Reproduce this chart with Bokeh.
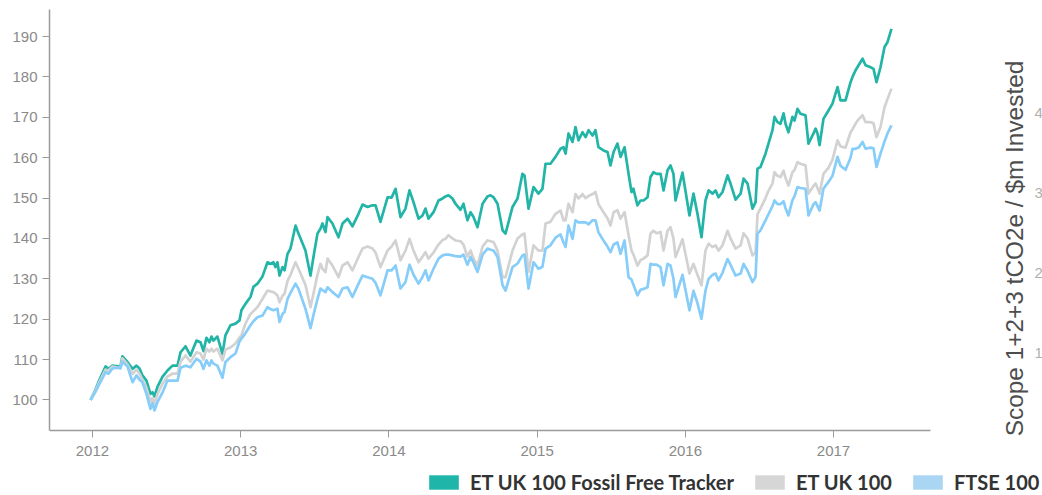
from math import pi
from bokeh.plotting import figure
from bokeh.models import (Range1d, FixedTicker, Label, Legend, LegendItem, ColumnDataSource)
from bokeh.embed import file_html
from bokeh.resources import INLINE

# ---- data (decimal year, index level rebased to 100) ----
years = [2011.987, 2012.020, 2012.047, 2012.088, 2012.108, 2012.135, 2012.169, 2012.189, 2012.202, 2012.236,
         2012.270, 2012.297, 2012.317, 2012.337, 2012.364, 2012.391, 2012.405, 2012.418, 2012.439, 2012.472,
         2012.506, 2012.540, 2012.574, 2012.594, 2012.628, 2012.661, 2012.702, 2012.729, 2012.749, 2012.769,
         2012.789, 2012.803, 2012.816, 2012.843, 2012.877, 2012.897, 2012.931, 2012.965, 2012.992, 2013.005,
         2013.032, 2013.066, 2013.086, 2013.113, 2013.147, 2013.181, 2013.201, 2013.221, 2013.235, 2013.248,
         2013.262, 2013.282, 2013.296, 2013.316, 2013.336, 2013.370, 2013.390, 2013.437, 2013.471, 2013.491,
         2013.518, 2013.538, 2013.552, 2013.572, 2013.586, 2013.619, 2013.660, 2013.687, 2013.721, 2013.754,
         2013.795, 2013.822, 2013.856, 2013.889, 2013.910, 2013.943, 2013.991, 2014.018, 2014.045, 2014.078,
         2014.112, 2014.139, 2014.166, 2014.200, 2014.227, 2014.247, 2014.267, 2014.301, 2014.335, 2014.362,
         2014.382, 2014.402, 2014.429, 2014.449, 2014.483, 2014.503, 2014.530, 2014.551, 2014.571, 2014.598,
         2014.632, 2014.665, 2014.686, 2014.706, 2014.733, 2014.767, 2014.787, 2014.834, 2014.868, 2014.901,
         2014.915, 2014.942, 2014.976, 2015.009, 2015.036, 2015.057, 2015.090, 2015.124, 2015.158, 2015.178,
         2015.192, 2015.212, 2015.239, 2015.259, 2015.279, 2015.306, 2015.327, 2015.347, 2015.374, 2015.394,
         2015.414, 2015.448, 2015.475, 2015.495, 2015.516, 2015.542, 2015.563, 2015.590, 2015.617, 2015.637,
         2015.650, 2015.677, 2015.698, 2015.718, 2015.745, 2015.765, 2015.785, 2015.806, 2015.833, 2015.853,
         2015.880, 2015.900, 2015.920, 2015.934, 2015.981, 2016.028, 2016.055, 2016.082, 2016.109, 2016.136,
         2016.157, 2016.184, 2016.204, 2016.224, 2016.251, 2016.285, 2016.305, 2016.339, 2016.373, 2016.393,
         2016.420, 2016.453, 2016.474, 2016.487, 2016.507, 2016.541, 2016.561, 2016.588, 2016.602, 2016.622,
         2016.642, 2016.663, 2016.676, 2016.696, 2016.723, 2016.737, 2016.757, 2016.777, 2016.811, 2016.831,
         2016.865, 2016.879, 2016.892, 2016.906, 2016.932, 2016.966, 2016.993, 2017.027, 2017.047, 2017.081,
         2017.115, 2017.128, 2017.148, 2017.169, 2017.196, 2017.216, 2017.250, 2017.270, 2017.290, 2017.317,
         2017.344, 2017.364, 2017.391]

fossil_free = [100, 102.5, 105, 108.3, 107.7, 108.5, 108.3, 108.3, 110.8, 109.4,
               107.7, 108.5, 107.8, 106.1, 104.8, 101.5, 101.9, 100.9, 103.3, 105.7,
               107.3, 108.5, 108.5, 111.8, 113.3, 111, 114.7, 114.3, 112.1, 115.4,
               114.3, 115.7, 114.7, 115.7, 111.4, 116, 118.5, 118.9, 119.7, 122.2,
               123.8, 125.5, 128, 128.8, 130.6, 134.1, 133.7, 134.1, 132.9, 134.1,
               130.8, 132.9, 132.1, 136.2, 137.5, 143.2, 141.2, 137, 130.8, 135.4,
               141.2, 142.4, 143.7, 141.6, 145.3, 143.7, 140.3, 143.7, 144.9, 143,
               146.1, 148.4, 147.8, 148.2, 148.2, 144.1, 150.2, 150.1, 152.3, 145.3,
               147.4, 151.9, 149, 144.9, 145.7, 147.4, 144.9, 146.5, 149.4, 149.9,
               150.4, 150.7, 149.9, 148.6, 147.1, 148.6, 144.5, 146.5, 145.3, 142.8,
               148.6, 150.4, 150.7, 150.2, 148.6, 142, 141.2, 147.8, 149.9, 156,
               155.6, 147.4, 152.7, 151.1, 152.3, 158.5, 158.5, 160.2, 162.2, 162.6,
               161, 166, 163.9, 167.6, 164.3, 166.3, 165.1, 166.8, 165.5, 166.8,
               162.6, 161.8, 161.4, 158.1, 161.4, 163.5, 160.2, 162.6, 156, 151.5,
               152.3, 148.2, 149.4, 149.4, 150.2, 155.2, 156.4, 156, 156, 151.9,
               156.9, 158.1, 156, 149.4, 156.3, 145.7, 151.1, 146.1, 140.3, 149.4,
               151.9, 151.1, 151.9, 150.2, 151.5, 155.6, 153.6, 149.6, 151.1, 154.8,
               153.6, 147.4, 149, 157.3, 157.7, 161, 163.5, 166.8, 170.1, 168.8,
               168.4, 171, 168.4, 166.3, 170.1, 169.2, 172.1, 170.9, 170.5, 163.5,
               166, 167.2, 166, 163.1, 169.6, 171.7, 173.4, 177.5, 174.2, 174.2,
               178.7, 180, 181.6, 182.9, 184.5, 182.9, 182.4, 182, 178.7, 182.4,
               187.4, 188.6, 191.9]

et_uk_100 = [100, 102.3, 104.5, 107.5, 107.3, 108.3, 108, 108, 110.3, 108.8,
             106.5, 107.5, 106.5, 105, 103, 99.5, 100.5, 99, 101.5, 104,
             105.8, 106.5, 106.5, 109.5, 111, 109.5, 111.8, 111.5, 110, 112.7,
             112, 112.7, 112, 112.7, 109.8, 112.5, 113, 114, 115.5, 116,
             118.9, 121.3, 122, 123, 125, 127.1, 126.9, 126.7, 126.3, 125.9,
             124.2, 125.8, 126.3, 129.5, 131, 134.1, 132.5, 128.5, 123, 126.3,
             131, 133.7, 132.5, 131.7, 135, 133.3, 130.4, 133.3, 134.1, 132.1,
             135.4, 137.5, 138, 137.5, 136.5, 132.9, 137, 138, 139.5, 134.6,
             137, 139.9, 137, 134.1, 135.5, 136.6, 135, 136.5, 138.5, 139.6,
             139.9, 140.8, 140, 139.5, 139.3, 138.5, 135.5, 137, 135, 133.3,
             138, 139.5, 139.3, 139.1, 137, 130.4, 130.4, 137, 140, 141,
             141.2, 131.7, 138.3, 137, 137, 143.7, 144.1, 146.1, 146.9, 144.5,
             144.5, 148.6, 146.5, 151, 149.9, 151, 150, 150.5, 151, 151.5,
             148.5, 146.5, 145, 143.2, 146.5, 147, 144.9, 146.5, 140.8, 137,
             136, 133.3, 134.6, 135, 135.8, 141.2, 141.9, 141.3, 141.6, 137,
             141.9, 142.8, 140, 135.4, 139.8, 131.3, 133.7, 131, 128.4, 137,
             138.7, 137.9, 138.3, 137, 138.3, 141.9, 140, 137.5, 138.3, 141.3,
             140, 135.8, 136.5, 146, 147.4, 150, 151.8, 153.6, 156.4, 155.5,
             155.2, 156.8, 155, 153.1, 156.4, 157, 158.9, 158.5, 158.1, 151.1,
             153, 153.6, 152.5, 151.1, 156, 157.5, 159.5, 164.3, 162.8, 162.5,
             166.3, 167, 168.4, 169.5, 170.5, 168.8, 168.8, 168.5, 165.1, 167.6,
             172.5, 174.5, 177.1]

ftse_100 = [100, 102, 104, 106.9, 106.5, 107.8, 108, 107.8, 109.5, 108.3,
            104.4, 106.1, 105, 104.4, 101.5, 97.8, 99.2, 97.4, 99.5, 101.8,
            104.8, 104.8, 104.8, 108, 108.5, 108.1, 110.2, 109.5, 107.7, 109.8,
            108.5, 109.8, 109, 108.5, 105.5, 109.4, 110.6, 111.5, 114.5, 115.2,
            116.5, 118.5, 119.5, 120.5, 120.9, 123, 122.5, 122.2, 122.4, 122.6,
            119.3, 121.3, 121.8, 125, 126.5, 128.8, 127.5, 122.6, 117.8, 121,
            125, 127.6, 127.2, 126.7, 127.9, 126.7, 125.5, 127.6, 127.9, 125.5,
            128.8, 130.8, 130.4, 130, 129, 125.9, 132.1, 132.1, 133.3, 127.6,
            129.2, 133.5, 131, 128.8, 130.5, 132.1, 129.6, 132.5, 135, 135.8,
            136, 136, 135.8, 135.6, 135.5, 136, 133.5, 135.4, 134, 131.7,
            136, 137.5, 137.2, 137, 135.4, 128.4, 127.1, 132.9, 133.8, 135.8,
            136, 127.6, 134.1, 132.5, 133, 137.5, 138.3, 140.2, 141, 139,
            137.9, 143.2, 139.9, 144.5, 144, 144, 144, 143.5, 144.5, 144.5,
            141.5, 139.5, 138, 136.6, 138.5, 139, 136.2, 139.5, 130.4, 129.8,
            128.5, 125.9, 127.3, 127.5, 127.9, 133.7, 133.5, 133.5, 132.9, 128.4,
            133.7, 133.3, 130, 125.5, 131, 122.2, 127, 124, 120.1, 127.1,
            130, 131, 131.3, 129.6, 131.5, 134.9, 133.5, 130.8, 131.3, 133.7,
            132, 129.2, 130.5, 141.2, 142, 144.5, 146, 148, 149.4, 148.5,
            148.5, 149.2, 147.5, 145.7, 149.5, 150.5, 152.7, 152.5, 152.3, 145.7,
            148.5, 149, 148, 146.9, 152.3, 154, 155.5, 160.2, 158, 157,
            160, 162.2, 162.2, 162.5, 163.9, 162.2, 162.5, 162.3, 157.7, 161,
            164, 166, 168]

series_names = ["ET UK 100 Fossil Free Tracker", "ET UK 100", "FTSE 100"]
x_ticks = [2012, 2013, 2014, 2015, 2016, 2017]
y_ticks = [100, 110, 120, 130, 140, 150, 160, 170, 180, 190]
carbon_ticks = [1, 2, 3, 4]
right_axis_title = "Scope 1+2+3 tCO2e / $m Invested"

line_colors = ["#22b5a7", "#d2d2d2", "#86cdf9"]
legend_colors = ["#1fb5a8", "#d6d6d6", "#a9d6f2"]

# visible axis extents, and the wider area the frame covers (legend / right title live there)
X_START, X_AXIS_END, X_END = 2011.71, 2017.655, 2018.41
Y_AXIS_START, Y_END, Y_START = 92.44, 196.7, 76.34

p = figure(width=1042, height=495, output_backend="svg", toolbar_location=None,
           x_range=Range1d(X_START, X_END), y_range=Range1d(Y_START, Y_END),
           min_border_left=49, min_border_right=0, min_border_top=9, min_border_bottom=0)
p.extra_y_ranges = {"carbon": Range1d(-0.7875, 5.2875)}
p.outline_line_color = None
p.xgrid.grid_line_color = None
p.ygrid.grid_line_color = None
p.background_fill_color = "white"
p.border_fill_color = "white"

for ax in (p.xaxis[0], p.yaxis[0]):
    ax.axis_line_color = "#9a9a9a"
    ax.axis_line_width = 1.5
    ax.major_tick_line_color = "#9a9a9a"
    ax.major_tick_line_width = 1
    ax.major_tick_out = 7
    ax.major_tick_in = 0
    ax.minor_tick_line_color = None
    ax.major_label_text_color = "#8a8a8a"
    ax.major_label_text_font = "Liberation Sans"
    ax.major_label_text_font_size = "15px"

p.xaxis.ticker = FixedTicker(ticks=x_ticks)
p.xaxis.bounds = (X_START, X_AXIS_END)
p.xaxis.fixed_location = Y_AXIS_START
p.xaxis.major_label_overrides = {t: str(t) for t in x_ticks}
p.xaxis.major_label_standoff = 9
p.yaxis.ticker = FixedTicker(ticks=y_ticks)
p.yaxis.bounds = (Y_AXIS_START, Y_END)
p.yaxis.major_label_standoff = 5

src = ColumnDataSource(dict(x=years, a=fossil_free, b=et_uk_100, c=ftse_100))
p.line("x", "a", source=src, line_color=line_colors[0], line_width=2.7, line_join="round")
p.line("x", "b", source=src, line_color=line_colors[1], line_width=2.7, line_join="round")
p.line("x", "c", source=src, line_color=line_colors[2], line_width=2.7, line_join="round")

# right-hand carbon scale labels (mostly outside the picture in the original)
p.text(x=[2018.356] * len(carbon_ticks), y=carbon_ticks, text=[str(t) for t in carbon_ticks],
       y_range_name="carbon", text_align="left", text_baseline="middle",
       text_font={"value": "Liberation Sans"}, text_font_size="15px", text_color="#b0b0b0")

title = Label(x=965, y=247, x_units="screen", y_units="screen", text=right_axis_title,
              angle=pi / 2, text_align="center", text_baseline="middle",
              text_font="Liberation Sans", text_font_size="24.4px", text_color="#4d4d4d")
p.add_layout(title)

# legend swatches (filled rectangles); one NaN row so the swatch colour is defined, nothing drawn
nan = float("nan")
items = []
for name, col in zip(series_names, legend_colors):
    r = p.quad(left=[nan], right=[nan], top=[nan], bottom=[nan], fill_color=col, line_color=None)
    items.append(LegendItem(label=name, renderers=[r]))

legend = Legend(items=items, orientation="horizontal", location=(376, 1),
                border_line_color=None, background_fill_alpha=0,
                padding=0, margin=0, spacing=17, label_standoff=8,
                glyph_width=37, glyph_height=18, label_height=20,
                label_text_font="Lato", label_text_font_style="bold",
                label_text_font_size="20px", label_text_color="#333333")
p.add_layout(legend, "center")

open("out.html", "w").write(file_html(p, INLINE))
